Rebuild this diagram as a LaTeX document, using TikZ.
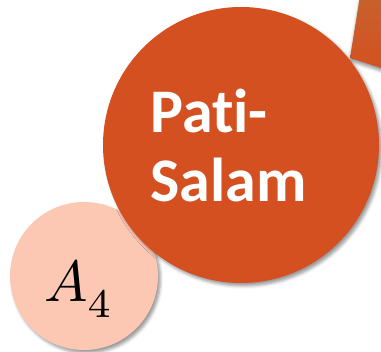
\documentclass[tikz,border=0pt]{standalone}
\usepackage{fontspec}
\newfontfamily\carlito[Ligatures=NoCommon]{Carlito}
\usetikzlibrary{shadows.blur}
\definecolor{orng}{HTML}{D55020}
\definecolor{orngtop}{HTML}{C5632E}
\definecolor{pinkc}{HTML}{FCC8B4}
\tikzset{
  shad/.style={blur shadow={shadow xshift=2.5pt, shadow yshift=-3pt, shadow blur radius=3pt, shadow opacity=40}},
  bigc/.style={circle, fill=orng, minimum size=276pt, inner sep=0pt, shad},
  smallc/.style={circle, fill=pinkc, minimum size=148pt, inner sep=0pt, shad},
}
\begin{document}
\begin{tikzpicture}[x=1pt,y=-1pt]
\useasboundingbox (0,0) rectangle (381,352);
% top-right partial shape
\path[top color=orngtop, bottom color=orng, blur shadow={shadow xshift=0pt, shadow yshift=-3pt, shadow blur radius=3pt, shadow opacity=40}]
  (361,-10) -- (350,58) -- (400,74) -- (400,-10) -- cycle;
\node[smallc] (a4) at (84,276) {};
\node[bigc] (ps) at (241,145) {};
\node[text=white, font=\carlito\bfseries\fontsize{62}{69}\selectfont, align=left, anchor=base west, inner sep=0pt] (lbl) at (150,202) {Pati-\\Salam};
\node[scale=5.8, inner sep=0pt, anchor=base west] (a4lbl) at (43,302) {$A_{\lower1.2pt\hbox{$\scriptstyle 4$}}$};
\end{tikzpicture}
\end{document}
